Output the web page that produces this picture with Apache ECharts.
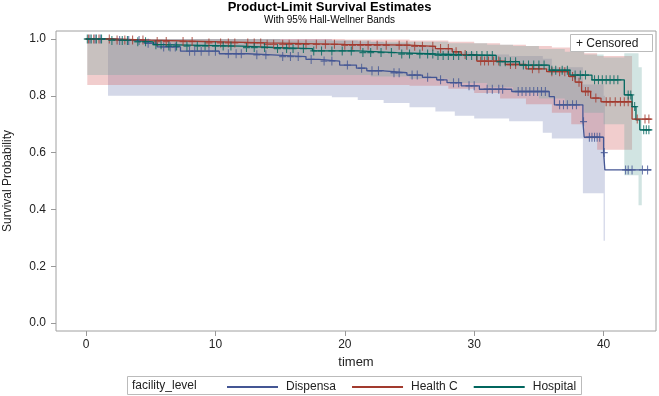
<!DOCTYPE html>
<html>
<head>
<meta charset="utf-8">
<script src="https://cdn.jsdelivr.net/npm/echarts@6/dist/echarts.min.js"></script>
<style>
html, body { margin: 0; padding: 0; background: #fff; }
#chart { width: 659px; height: 396px; }
</style>
</head>
<body>
<div id="chart"></div>
<script>
var groups = ['Dispensa', 'Health C', 'Hospital'];
var xTicks = [0, 10, 20, 30, 40];
var yTicks = [0, 0.2, 0.4, 0.6, 0.8, 1.0];

// product-limit estimate, step points [time, S(t)]
var dispensaCurve = [[0,1],[2,0.995],[4.5,0.985],[5.5,0.972],[7.3,0.957],[10.3,0.948],[12.5,0.944],[14.4,0.938],
    [17,0.928],[18,0.922],[19.6,0.908],[20.9,0.897],[21.7,0.888],[23,0.881],[24.8,0.873],[26,0.865],[27.1,0.856],
    [27.9,0.846],[29,0.835],[30.4,0.823],[32.9,0.815],[35.8,0.797],[36.2,0.768],[38.4,0.709],[38.5,0.654],
    [40,0.6],[40.1,0.539],[43.7,0.539]];
var healthCurve = [[0,1],[2,0.996],[5,0.991],[9,0.986],[14,0.981],[20,0.978],[25,0.974],[27,0.966],[28.3,0.955],
    [29,0.945],[30.2,0.922],[32.4,0.91],[34,0.895],[35.6,0.885],[37.3,0.868],[37.8,0.848],[38.3,0.815],[39,0.792],
    [39.8,0.779],[42.2,0.718],[43.7,0.718]];
var hospitalCurve = [[0,1],[1.5,0.995],[3.5,0.99],[5.2,0.98],[6,0.975],[12,0.97],[14.5,0.966],[17.5,0.958],[21,0.952],
    [24,0.947],[27,0.942],[31.7,0.92],[33.5,0.908],[35.8,0.89],[37.4,0.873],[39.1,0.856],[41.6,0.803],[42.2,0.762],
    [42.5,0.715],[42.8,0.68],[43.7,0.68]];

// censored times
var dispensaCens = [0.3,0.7,1.1,2.6,3.3,4.1,4.8,6.0,6.5,6.9,8.0,8.4,8.9,9.5,10.0,11.0,11.6,12.0,13.2,13.9,15.2,15.8,
    16.4,17.4,18.4,19.0,20.2,21.3,22.1,22.6,23.8,24.2,25.2,25.6,26.4,27.4,28.4,28.8,29.6,30.0,31.0,31.4,31.9,32.2,
    33.4,33.7,34.0,34.3,34.6,34.9,35.2,35.5,36.6,36.9,37.2,37.6,37.9,38.45,38.9,39.1,39.3,39.5,39.7,40.05,41.7,41.9,
    42.2,43.0,43.4];
var healthCens = [0.2,0.6,1.0,1.8,2.4,3.0,3.6,4.4,5.5,6.2,7.5,8.2,9.5,10.4,11.0,11.5,12.5,13.0,13.5,14.0,14.5,15.2,
    15.7,16.4,17.0,17.8,18.5,19.2,20.0,20.6,21.2,21.8,22.5,23.2,24.2,24.8,25.4,26.0,26.8,27.4,28.0,28.6,29.3,30.5,
    30.8,31.1,31.5,31.9,32.8,33.2,34.5,35.0,36.0,36.6,37.0,37.6,38.1,38.6,38.8,39.4,40.2,40.5,40.9,41.3,41.6,41.9,
    42.6,43.2,43.5];
var hospitalCens = [0.1,0.4,0.8,1.2,2.0,2.8,3.2,4.0,4.6,5.4,5.8,6.4,7.0,7.8,8.6,9.2,10.0,10.6,11.2,12.4,13.0,13.8,
    14.8,15.5,16.0,16.8,17.6,18.2,19.0,19.8,20.5,21.4,22.0,22.8,23.6,24.4,25.0,25.8,26.4,26.8,27.2,27.6,28.0,28.4,
    28.8,29.4,29.8,30.2,30.6,31.0,31.4,32.0,32.4,32.8,33.2,33.8,34.2,34.6,35.0,35.4,36.0,36.3,36.8,37.2,37.8,38.2,
    38.6,39.3,39.6,39.9,40.2,40.5,40.8,41.1,41.9,42.1,42.4,43.1,43.3,43.5];

// 95% Hall-Wellner bands (last time closes the final step)
var dispensaBandTime  = [1.7, 19, 21, 23, 25, 27, 28.5, 30, 32.7, 35.3, 36, 38.4, 40, 40.1];
var dispensaBandLower = [0.8, 0.795, 0.785, 0.775, 0.76, 0.745, 0.73, 0.72, 0.71, 0.67, 0.65, 0.457, 0.29, 0.29];
var dispensaBandUpper = [1.0, 0.995, 0.99, 0.985, 0.975, 0.965, 0.955, 0.945, 0.94, 0.93, 0.9, 0.84, 0.8, 0.8];
var healthBandTime  = [0.1, 20, 25, 28, 30, 32, 34, 36, 37.5, 38.5, 39.5, 42.2];
var healthBandLower = [0.838, 0.838, 0.835, 0.825, 0.81, 0.79, 0.77, 0.74, 0.7, 0.65, 0.61, 0.61];
var healthBandUpper = [1.0, 0.998, 0.995, 0.99, 0.985, 0.98, 0.975, 0.97, 0.96, 0.95, 0.94, 0.94];
var hospitalBandTime  = [0.1, 15, 22, 25, 28, 31, 33, 35, 37, 38.5, 40, 41.6, 42.7, 42.95];
var hospitalBandLower = [0.873, 0.873, 0.868, 0.86, 0.845, 0.83, 0.81, 0.79, 0.765, 0.74, 0.7, 0.52, 0.415, 0.415];
var hospitalBandUpper = [1.0, 0.995, 0.99, 0.99, 0.985, 0.98, 0.975, 0.965, 0.955, 0.945, 0.935, 0.95, 0.9, 0.9];

var lineColors = ['#445694', '#A23A2E', '#01665E'];
var fillColors = ['#6F7EB3', '#D05B5B', '#66A5A0'];
var font = "'Liberation Sans', Arial, sans-serif";

function survAt(curve, t) {
    var s = curve[0][1];
    for (var i = 0; i < curve.length; i++) {
        if (curve[i][0] <= t) s = curve[i][1];
    }
    return s;
}

// band drawn as one step polygon through the axis scales
function bandSeries(t, lo, hi, color) {
    return {
        type: 'custom', silent: true, z: 1,
        data: [[t[0], hi[0]]],
        renderItem: function (params, api) {
            var pts = [], n = t.length, i;
            for (i = 0; i < n - 1; i++) {
                pts.push(api.coord([t[i], hi[i]]));
                pts.push(api.coord([t[i + 1], hi[i]]));
            }
            for (i = n - 2; i >= 0; i--) {
                pts.push(api.coord([t[i + 1], lo[i]]));
                pts.push(api.coord([t[i], lo[i]]));
            }
            return {
                type: 'polygon',
                shape: { points: pts },
                style: { fill: color, opacity: 0.3 }
            };
        }
    };
}

function curveSeries(name, curve, color) {
    return {
        name: name, type: 'line', step: 'end', symbol: 'none', z: 3,
        itemStyle: { color: color },
        lineStyle: { color: color, width: 1.3 },
        data: curve
    };
}

function censSeries(curve, times, color) {
    return {
        type: 'scatter', z: 4, silent: true,
        symbol: 'path://M5,0L5,10M0,5L10,5',
        symbolSize: [7, 9],
        itemStyle: { color: 'rgba(0,0,0,0)', borderColor: color, borderWidth: 1.2 },
        data: times.map(function (t) { return [t, survAt(curve, t)]; })
    };
}

var series = [
    bandSeries(dispensaBandTime, dispensaBandLower, dispensaBandUpper, fillColors[0]),
    bandSeries(healthBandTime, healthBandLower, healthBandUpper, fillColors[1]),
    bandSeries(hospitalBandTime, hospitalBandLower, hospitalBandUpper, fillColors[2]),
    curveSeries(groups[0], dispensaCurve, lineColors[0]),
    curveSeries(groups[1], healthCurve, lineColors[1]),
    curveSeries(groups[2], hospitalCurve, lineColors[2]),
    censSeries(dispensaCurve, dispensaCens, lineColors[0]),
    censSeries(healthCurve, healthCens, lineColors[1]),
    censSeries(hospitalCurve, hospitalCens, lineColors[2])
];

var chart = echarts.init(document.getElementById('chart'));
chart.setOption({
    animation: false,
    textStyle: { fontFamily: font },
    title: {
        text: 'Product-Limit Survival Estimates',
        subtext: 'With 95% Hall-Wellner Bands',
        left: 'center', top: -4, itemGap: 1,
        textStyle: { fontSize: 13, fontWeight: 'bold', color: '#000', fontFamily: font },
        subtextStyle: { fontSize: 10, color: '#000', fontFamily: font }
    },
    grid: {
        left: 56, right: 3, top: 31, bottom: 65,
        outerBoundsMode: 'none', containLabel: false,
        show: true, borderColor: '#a0a0a0', borderWidth: 1
    },
    xAxis: {
        type: 'value', min: -2.32, max: 44.05,
        name: 'timem', nameLocation: 'middle', nameGap: 25,
        nameTextStyle: { fontSize: 13, color: '#222' },
        axisLine: { show: false, onZero: false },
        splitLine: { show: false },
        axisTick: { show: true, length: 5, customValues: xTicks, lineStyle: { color: '#999' } },
        axisLabel: { customValues: xTicks, margin: 8, fontSize: 12, color: '#222' }
    },
    yAxis: {
        type: 'value', min: -0.028, max: 1.028,
        name: 'Survival Probability', nameLocation: 'middle', nameGap: 42,
        nameTextStyle: { fontSize: 12, color: '#222' },
        axisLine: { show: false, onZero: false },
        splitLine: { show: false },
        axisTick: { show: true, length: 5, customValues: yTicks, lineStyle: { color: '#999' } },
        axisLabel: { customValues: yTicks, margin: 10, fontSize: 12, color: '#222',
            formatter: function (v) { return v.toFixed(1); } }
    },
    legend: {
        left: 222, top: 376,
        data: groups, selectedMode: false,
        icon: 'rect', itemWidth: 51, itemHeight: 2, itemGap: 16,
        textStyle: { fontSize: 12, color: '#222', padding: [0, 0, 0, 3] }
    },
    graphic: [
        { type: 'rect', shape: { x: 127.5, y: 376.5, width: 454, height: 18 },
          style: { fill: 'none', stroke: '#bbb', lineWidth: 1 } },
        { type: 'text', x: 132, y: 385.5,
          style: { text: 'facility_level', font: '12px ' + font, fill: '#222', verticalAlign: 'middle' } },
        { type: 'rect', shape: { x: 570.5, y: 34.5, width: 82, height: 17 },
          style: { fill: '#fff', stroke: '#bbb', lineWidth: 1 }, z: 10 },
        { type: 'text', x: 576, y: 43.5, z: 11,
          style: { text: '+ Censored', font: '12px ' + font, fill: '#222', verticalAlign: 'middle' } }
    ],
    series: series
});
</script>
</body>
</html>
